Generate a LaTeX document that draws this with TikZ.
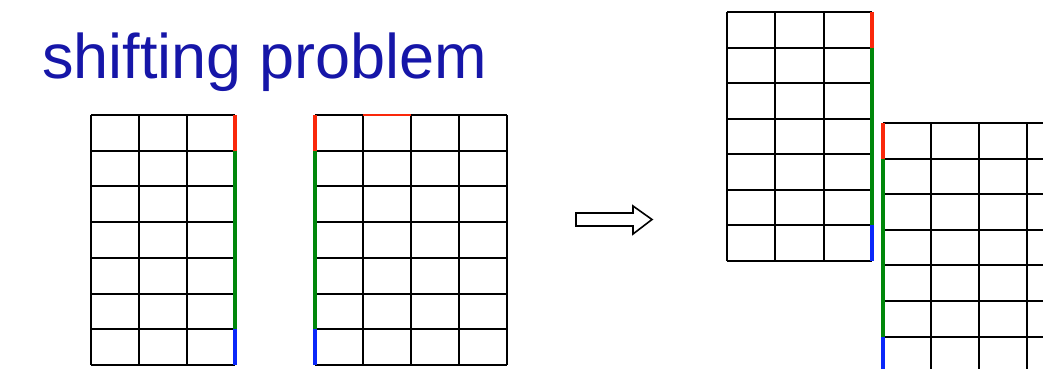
\documentclass[tikz,border=0pt]{standalone}
\usepackage{fontspec}
\setmainfont{Liberation Sans}
\definecolor{titleblue}{RGB}{22,22,168}
\definecolor{segred}{RGB}{250,40,10}
\definecolor{seggreen}{RGB}{0,135,10}
\definecolor{segblue}{RGB}{10,40,250}
\tikzset{
  gridline/.style={black, line width=1.9pt},
  redseg/.style={segred, line width=3.6pt},
  greenseg/.style={seggreen, line width=3.6pt},
  blueseg/.style={segblue, line width=3.6pt},
  thinred/.style={segred, line width=1.2pt},
  arrowoutline/.style={black, line width=1.6pt, fill=white, line join=miter},
}
% \mygrid{x0}{y0}{ncols}{nrows}{cellwidth}{cellheight}
\newcommand\mygrid[6]{%
  \foreach \i in {0,...,#3} \draw[gridline] (#1+\i*#5,#2) -- (#1+\i*#5,#2+#4*#6);
  \foreach \j in {0,...,#4} \draw[gridline] (#1,{round(#2+\j*#6)}) -- (#1+#3*#5,{round(#2+\j*#6)});
}
% \mysegs{x}{y0}{cellheight}
\newcommand\mysegs[3]{%
  \draw[redseg]   (#1,#2) -- (#1,#2+#3);
  \draw[greenseg] (#1,#2+#3) -- (#1,#2+6*#3);
  \draw[blueseg]  (#1,#2+6*#3) -- (#1,#2+7*#3);
}
\begin{document}
\begin{tikzpicture}[x=1pt,y=-1pt]
\useasboundingbox (0,0) rectangle (1043,369);
\clip (0,0) rectangle (1043,369);
% title
\node[anchor=base west, inner sep=0pt, text=titleblue, font=\fontsize{63}{70}\selectfont] (title) at (42,78) {shifting problem};
% grid 1
\mygrid{91}{115}{3}{7}{48}{35.714}
\mysegs{235}{115}{35.714}
% grid 2
\mygrid{315}{115}{4}{7}{48}{35.714}
\draw[thinred] (363,115) -- (411,115);
\mysegs{315}{115}{35.714}
% arrow
\draw[arrowoutline] (576,213) -- (633,213) -- (633,206) -- (652,219.5) -- (633,234) -- (633,226) -- (576,226) -- cycle;
% grid 3
\mygrid{727}{12}{3}{7}{48.33}{35.57}
\mysegs{872}{12}{35.57}
% grid 4
\mygrid{883}{123}{4}{7}{48}{35.6}
\mysegs{883}{123}{35.6}
\end{tikzpicture}
\end{document}
